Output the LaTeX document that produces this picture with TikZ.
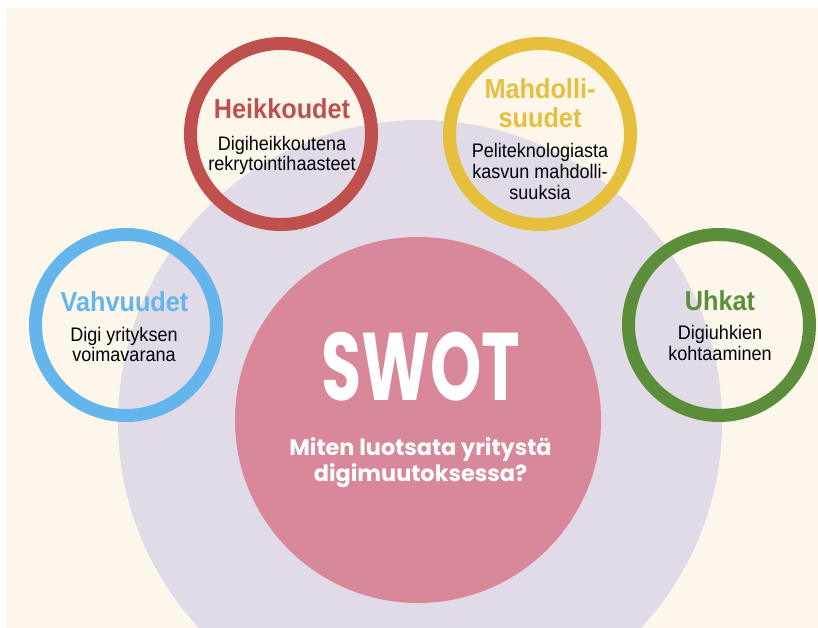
\documentclass[tikz,border=0pt]{standalone}
\usepackage{fontspec}
\usepackage{xcolor}
\usepackage{tikz}
\usetikzlibrary{positioning}
\setmainfont{Liberation Sans}
\newfontfamily\condfont[FakeStretch=0.92]{Liberation Sans}
\newfontfamily\swotfont[FakeStretch=0.68]{Poppins}
\newfontfamily\questfont{Poppins}
\definecolor{creambg}{HTML}{FDF6EA}
\definecolor{lavender}{HTML}{E1DAE7}
\definecolor{swotpink}{HTML}{D88898}
\definecolor{heikred}{HTML}{C0504D}
\definecolor{mahdyellow}{HTML}{E6BF3D}
\definecolor{vahvblue}{HTML}{64B5EC}
\definecolor{uhkgreen}{HTML}{5A8E3A}

\begin{document}
\begin{tikzpicture}[x=0.75pt,y=-0.75pt,
  ring/.style={circle,draw=#1,line width=9.75pt,minimum size=135.75pt,inner sep=0pt},
  ringtitle/.style={text=#1,font=\condfont\bfseries\fontsize{20.6}{21.8}\selectfont,align=center,anchor=base,inner sep=0pt},
  ringtext/.style={font=\condfont\fontsize{14.7}{15.5}\selectfont,align=center,anchor=base,inner sep=0pt}]
  \useasboundingbox (0,0) rectangle (818,628);
  % background and outer circle
  \fill[creambg] (6,8) rectangle (818,628);
  \begin{scope}
    \clip (6,8) rectangle (818,628);
    \fill[lavender] (420,422) circle[radius=302];
  \end{scope}
  % centre (base = last line)
  \node[circle,fill=swotpink,minimum size=274.5pt,inner sep=0pt] (swot) at (418,420) {};
  \node[font=\swotfont\bfseries\fontsize{72}{72}\selectfont,text=white,anchor=base,inner sep=0pt] (swotword) at (421,400) {SWOT};
  \node[font=\questfont\bfseries\fontsize{16.8}{20}\selectfont,text=white,align=center,anchor=base,inner sep=0pt] (question) at (420.5,481.7) {Miten luotsata yritystä\\digimuutoksessa?};
  % rings
  \node[ring=heikred] (heik) at (281,134) {};
  \node[ring=mahdyellow] (mahd) at (540,134) {};
  \node[ring=vahvblue] (vahv) at (126,325) {};
  \node[ring=uhkgreen] (uhk) at (719,325) {};
  % ring texts
  \node[ringtitle=heikred] (heiktitle) at (282,118.3) {Heikkoudet};
  \node[ringtext] (heiktext) at (282,170.7) {Digiheikkoutena\\rekrytointihaasteet};
  \node[ringtitle=mahdyellow] (mahdtitle) at (540,127.3) {Mahdolli-\\suudet};
  \node[ringtext] (mahdtext) at (540,199) {Peliteknologiasta\\kasvun mahdolli-\\suuksia};
  \node[ringtitle=vahvblue] (vahvtitle) at (124.5,311.7) {Vahvuudet};
  \node[ringtext] (vahvtext) at (124,361.7) {Digi yrityksen\\voimavarana};
  \node[ringtitle=uhkgreen] (uhktitle) at (720,310) {Uhkat};
  \node[ringtext] (uhktext) at (720,360) {Digiuhkien\\kohtaaminen};
\end{tikzpicture}
\end{document}
